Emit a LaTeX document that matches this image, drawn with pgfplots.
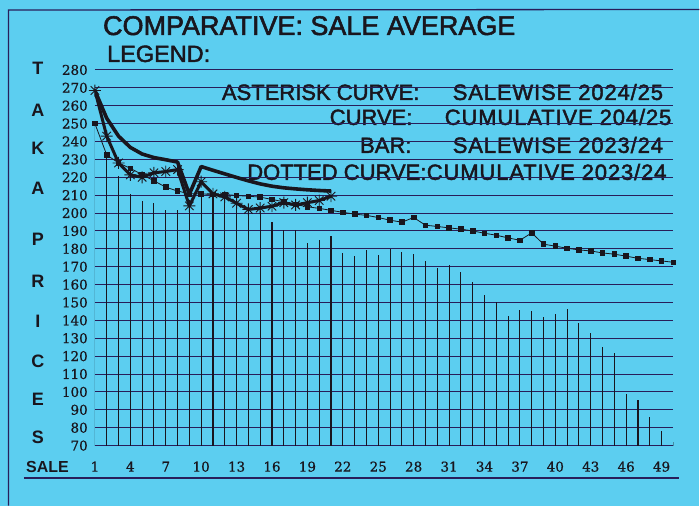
\documentclass[border=0pt]{standalone}
\usepackage{pgfplots}
\pgfplotsset{compat=1.18}
\usepackage{fontspec}
\setmainfont{Liberation Sans}
\newfontfamily\heavy[FakeBold=2]{Liberation Sans}
\newfontfamily\heavyw[FakeBold=2,LetterSpace=4]{Liberation Sans}
\newfontfamily\bold{Liberation Sans Bold}
\newfontfamily\ticksfont[FakeBold=0.8]{DejaVu Serif}
\definecolor{bg}{RGB}{92,206,240}
\definecolor{ink}{RGB}{25,22,30}
\definecolor{gridc}{RGB}{40,30,90}
\pgfdeclareplotmark{star8}{%
  \pgfpathmoveto{\pgfqpoint{-\pgfplotmarksize}{0pt}}\pgfpathlineto{\pgfqpoint{\pgfplotmarksize}{0pt}}%
  \pgfpathmoveto{\pgfqpoint{0pt}{-\pgfplotmarksize}}\pgfpathlineto{\pgfqpoint{0pt}{\pgfplotmarksize}}%
  \pgfpathmoveto{\pgfqpoint{-0.707\pgfplotmarksize}{-0.707\pgfplotmarksize}}\pgfpathlineto{\pgfqpoint{0.707\pgfplotmarksize}{0.707\pgfplotmarksize}}%
  \pgfpathmoveto{\pgfqpoint{-0.707\pgfplotmarksize}{0.707\pgfplotmarksize}}\pgfpathlineto{\pgfqpoint{0.707\pgfplotmarksize}{-0.707\pgfplotmarksize}}%
  \pgfusepathqstroke}
\begin{document}
\begin{tikzpicture}[x=1pt,y=1pt]
\fill[bg] (0,0) rectangle (700,506);
\draw[gridc, line width=1.3pt] (8.5,0) -- (8.5,496) -- (700,496.5);
\draw[gridc, line width=1.3pt] (24,27.5) -- (680,27.5);
% title and legend
\node[anchor=base west, inner sep=0pt, font=\heavy\fontsize{27}{30}\selectfont, text=ink] at (103,471) {COMPARATIVE:\ SALE AVERAGE};
\node[anchor=base west, inner sep=0pt, font=\heavy\fontsize{23.5}{26}\selectfont, text=ink] at (107,444) {LEGEND:};
\begin{scope}[every node/.style={inner sep=0pt, font=\heavy\fontsize{22}{25}\selectfont, text=ink}]
\node[anchor=base east] at (420,406) {ASTERISK CURVE:};
\node[anchor=base west, font=\heavyw\fontsize{22}{25}\selectfont] at (453,406) {SALEWISE 2024/25};
\node[anchor=base east] at (413,381) {CURVE:};
\node[anchor=base west, font=\heavyw\fontsize{22}{25}\selectfont] at (445,381) {CUMULATIVE 204/25};
\node[anchor=base east] at (412,353) {BAR:};
\node[anchor=base west, font=\heavyw\fontsize{22}{25}\selectfont] at (453,353) {SALEWISE 2023/24};
\node[anchor=base east] at (427,326) {DOTTED CURVE:};
\node[anchor=base west, font=\heavyw\fontsize{22}{25}\selectfont] at (427,326) {CUMULATIVE 2023/24};
\end{scope}
% vertical axis word
\begin{scope}[every node/.style={inner sep=0pt, anchor=center, font=\bold\fontsize{18}{20}\selectfont, text=ink}]
\node at (38,438) {T};
\node at (38,396) {A};
\node at (38,358) {K};
\node at (38,318) {A};
\node at (38,266) {P};
\node at (38,224) {R};
\node at (38,184) {I};
\node at (38,144) {C};
\node at (38,106) {E};
\node at (38,68) {S};
\end{scope}
\node[anchor=base west, inner sep=0pt, font=\bold\fontsize{16}{18}\selectfont, text=ink] at (26,33) {SALE};
\begin{axis}[
  at={(95pt,60pt)}, anchor=south west,
  scale only axis, width=579pt, height=376pt,
  xmin=1, xmax=50, ymin=70, ymax=280,
  axis line style={draw=none},
  major tick length=0pt,
  xtick={1,4,...,49},
  ytick={70,80,...,280},
  ymajorgrids,
  grid style={gridc, line width=0.9pt},
  /pgf/number format/assume math mode=true,
  ticklabel style={font=\ticksfont\fontsize{13.5}{15}\selectfont, text=ink},
  yticklabel style={anchor=east, inner sep=0pt, xshift=-7pt},
  xticklabel style={anchor=base, inner sep=0pt, yshift=-26pt},
  clip mode=individual,
]
% bars: salewise 2023/24
\addplot[ycomb, ink, line width=1.1pt, mark=none] coordinates {
(1,250) (2,232.5) (3,220.6) (4,210.6) (5,207) (6,205.8) (7,201.8) (8,201.8) (9,204) (10,211)
(11,211) (12,210.5) (13,207) (14,202) (15,201) (16,195.2) (17,190.6) (18,190.6) (19,183.1) (20,185.2)
(21,187.4) (22,177.6) (23,176) (24,179.6) (25,176.5) (26,180.1) (27,178.3) (28,177.2) (29,173.1) (30,169.3)
(31,171.2) (32,167.1) (33,161.5) (34,154) (35,150.3) (36,142.5) (37,145.8) (38,145.4) (39,141.9) (40,143.6)
(41,146.6) (42,138.4) (43,133) (44,125.3) (45,121.6) (46,98.8) (47,95.3) (48,85.8) (49,78.1) (50,72)
};
% dotted curve: cumulative 2023/24
\addplot[ink, line width=0.8pt, mark=square*, mark size=2.3pt] coordinates {
(1,250) (2,232.5) (3,228) (4,225) (5,221.5) (6,218) (7,214.5) (8,212.3) (9,210.8) (10,210.7)
(11,210.4) (12,210.4) (13,209.8) (14,209.4) (15,208.9) (16,207.6) (17,206.3) (18,204.8) (19,203.5) (20,202.6)
(21,201.5) (22,200.4) (23,199.4) (24,198.7) (25,197.5) (26,196) (27,194.9) (28,197.5) (29,193.2) (30,192.5)
(31,191.7) (32,191) (33,190) (34,188.7) (35,187.6) (36,186.1) (37,184.8) (38,188.9) (39,182.6) (40,181.5)
(41,180.3) (42,179.4) (43,178.8) (44,177.7) (45,177) (46,175.9) (47,174.7) (48,174) (49,173.2) (50,172.5)
};
% curve: cumulative 2024/25
\addplot[ink, line width=3.6pt, mark=none, line join=round] coordinates {
(1,268.5) (2,253) (3,243) (4,236.7) (5,233) (6,231) (7,229.8) (8,228.5) (9,210.5) (10,226)
(11,223.9) (12,221.9) (13,219.9) (14,218) (15,216.3) (16,215) (17,214.1) (18,213.5) (19,213) (20,212.6) (21,212.3)
};
% asterisk curve: salewise 2024/25
\addplot[ink, line width=3pt, line join=round, mark=star8, mark size=6pt, mark options={line width=0.9pt}] coordinates {
(1,268.5) (2,243) (3,228) (4,221.3) (5,220) (6,222.5) (7,223.2) (8,224.3) (9,204) (10,217.5)
(11,210.7) (12,209) (13,205.5) (14,202) (15,202.8) (16,203.8) (17,205.8) (18,204.5) (19,205.8) (20,207) (21,209.4)
};
\end{axis}
\end{tikzpicture}
\end{document}
